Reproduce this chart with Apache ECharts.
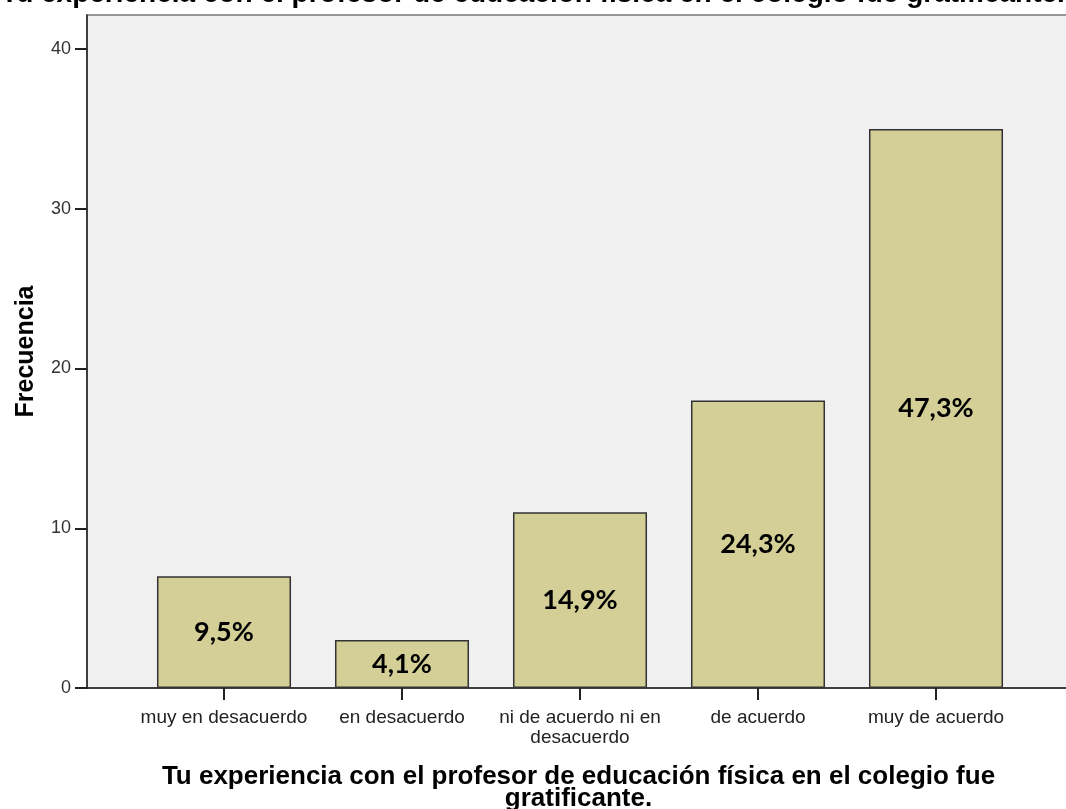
<!DOCTYPE html>
<html>
<head>
<meta charset="utf-8">
<script src="https://cdn.jsdelivr.net/npm/echarts@6/dist/echarts.min.js"></script>
<style>
html,body{margin:0;padding:0;background:#fff;}
#chart{width:1066px;height:809px;}
</style>
</head>
<body>
<div id="chart"></div>
<script>
const chartTitle = 'Tu experiencia con el profesor de educación física en el colegio fue gratificante.';
const xAxisTitle = 'Tu experiencia con el profesor de educación física en el colegio fue\ngratificante.';
const yAxisTitle = 'Frecuencia';
const categories = ['muy en desacuerdo', 'en desacuerdo', 'ni de acuerdo ni en\ndesacuerdo', 'de acuerdo', 'muy de acuerdo'];
const frequencies = [7, 3, 11, 18, 35];
const percentLabels = ['9,5%', '4,1%', '14,9%', '24,3%', '47,3%'];
const yMin = 0, yMax = 40, yInterval = 10;

const chart = echarts.init(document.getElementById('chart'));
const axisColor = '#222';
chart.setOption({
  animation: false,
  backgroundColor: '#ffffff',
  title: {
    text: chartTitle,
    left: 'center',
    top: -25,
    textStyle: {fontFamily: 'Liberation Sans', fontWeight: 'bold', fontSize: 28, color: '#000'}
  },
  grid: [
    {left: 87, top: 15, right: -4, bottom: 121, show: true, backgroundColor: '#f0f0f0', borderColor: '#777', borderWidth: 1.5, outerBoundsMode: 'none', containLabel: false},
    {left: 135, top: 49, right: 41, bottom: 121, outerBoundsMode: 'none', containLabel: false}
  ],
  xAxis: [
    {
      gridIndex: 0, type: 'value', min: 0, max: 1,
      axisLine: {show: true, lineStyle: {color: axisColor, width: 1.5}},
      axisTick: {show: false}, axisLabel: {show: false}, splitLine: {show: false},
      name: xAxisTitle, nameLocation: 'middle', nameGap: 78,
      nameTextStyle: {fontFamily: 'Liberation Sans', fontWeight: 'bold', fontSize: 26, lineHeight: 22, color: '#000'}
    },
    {
      gridIndex: 1, type: 'category', data: categories,
      axisLine: {show: false},
      axisTick: {show: true, alignWithLabel: true, length: 12, lineStyle: {color: axisColor, width: 2}},
      axisLabel: {margin: 20, fontFamily: 'Liberation Sans', fontSize: 19, lineHeight: 20, color: '#222', interval: 0}
    }
  ],
  yAxis: [
    {
      gridIndex: 0, type: 'value', min: 0, max: 1,
      axisLine: {show: true, lineStyle: {color: axisColor, width: 1.5}},
      axisTick: {show: false}, axisLabel: {show: false}, splitLine: {show: false},
      name: yAxisTitle, nameLocation: 'middle', nameGap: 48,
      nameTextStyle: {fontFamily: 'Liberation Sans', fontWeight: 'bold', fontSize: 25, color: '#000'}
    },
    {
      gridIndex: 1, type: 'value', min: yMin, max: yMax, interval: yInterval, offset: 48,
      axisLine: {show: false},
      axisTick: {show: true, length: 12, lineStyle: {color: axisColor, width: 2}},
      axisLabel: {margin: 16, fontFamily: 'Liberation Sans', fontSize: 18, color: '#333'},
      splitLine: {show: false}
    }
  ],
  series: [{
    type: 'bar',
    xAxisIndex: 1, yAxisIndex: 1,
    data: frequencies,
    barWidth: '75.3%',
    itemStyle: {color: '#d3cf97', borderColor: '#333', borderWidth: 1.5},
    label: {
      show: true, position: 'inside',
      formatter: p => percentLabels[p.dataIndex],
      fontFamily: 'Lato', fontWeight: 'bold', fontSize: 27, color: '#000'
    }
  }]
});
</script>
</body>
</html>
